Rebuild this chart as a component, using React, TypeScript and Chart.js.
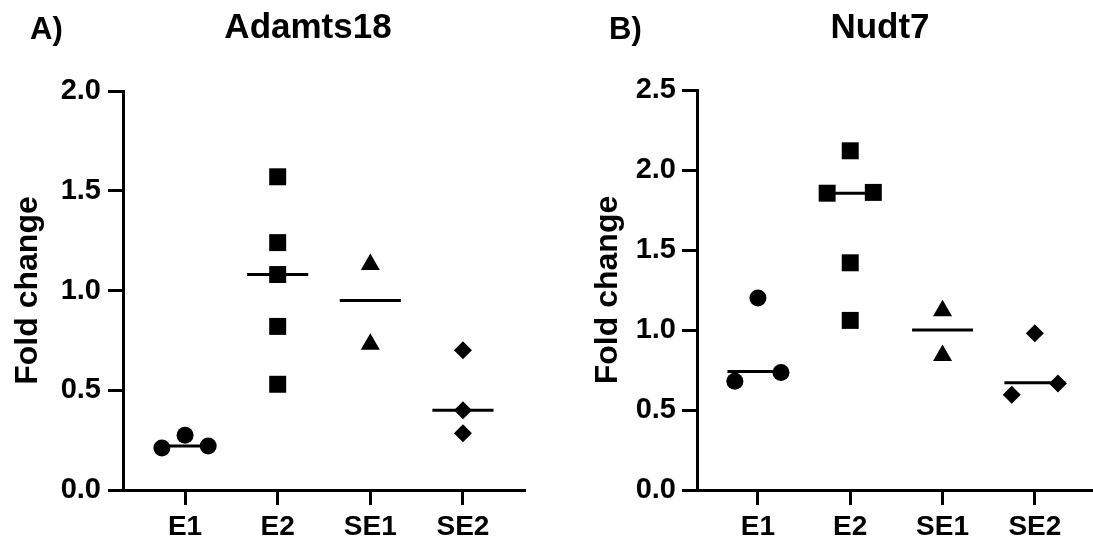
import React, { useEffect, useRef } from "react";
import { Chart, registerables } from "chart.js";
Chart.register(...registerables);

const FONT = "'Liberation Sans', Arial, Helvetica, sans-serif";

// Categories and marker shapes
const groups = ["E1", "E2", "SE1", "SE2"];
const pointStyles = ["circle", "rect", "triangle", "rectRot"];
const pointRadii = [8.5, 12, 11, 9];

// Panel A: Adamts18 fold change values
const adamtsE1 = [0.21, 0.275, 0.22];
const adamtsE2 = [1.57, 1.24, 1.08, 0.82, 0.53];
const adamtsSE1 = [1.13, 0.73];
const adamtsSE2 = [0.7, 0.4, 0.285];
const adamtsMedians = [0.22, 1.08, 0.95, 0.4];
// horizontal scatter (jitter) in category units
const adamtsJitterE1 = [-0.25, 0, 0.25];
const adamtsJitterE2 = [0, 0, 0, 0, 0];
const adamtsJitterSE1 = [0, 0];
const adamtsJitterSE2 = [0, 0, 0];
const adamtsYTicks = [0, 0.5, 1.0, 1.5, 2.0];

// Panel B: Nudt7 fold change values
const nudtE1 = [0.68, 1.2, 0.735];
const nudtE2 = [1.855, 2.12, 1.86, 1.42, 1.06];
const nudtSE1 = [1.12, 0.84];
const nudtSE2 = [0.595, 0.98, 0.665];
const nudtMedians = [0.74, 1.855, 1.0, 0.67];
const nudtJitterE1 = [-0.25, 0, 0.25];
const nudtJitterE2 = [-0.25, 0, 0.25, 0, 0];
const nudtJitterSE1 = [0, 0];
const nudtJitterSE2 = [-0.25, 0, 0.25];
const nudtYTicks = [0, 0.5, 1.0, 1.5, 2.0, 2.5];

type PanelSpec = {
  letter: string;
  title: string;
  values: number[][];
  jitter: number[][];
  medians: number[];
  yTicks: number[];
  width: number;
  yAxisWidth: number;
  padTop: number;
  padRight: number;
  xMin: number;
  xMax: number;
  yTitlePad: number;
  tickPad: number;
  letterX: number;
  titleX: number;
};

const panelA: PanelSpec = {
  letter: "A)",
  title: "Adamts18",
  values: [adamtsE1, adamtsE2, adamtsSE1, adamtsSE2],
  jitter: [adamtsJitterE1, adamtsJitterE2, adamtsJitterSE1, adamtsJitterSE2],
  medians: adamtsMedians,
  yTicks: adamtsYTicks,
  width: 546,
  yAxisWidth: 123,
  padTop: 91,
  padRight: 21,
  xMin: -0.67,
  xMax: 3.67,
  yTitlePad: 9,
  tickPad: 7,
  letterX: 30,
  titleX: 308,
};

const panelB: PanelSpec = {
  letter: "B)",
  title: "Nudt7",
  values: [nudtE1, nudtE2, nudtSE1, nudtSE2],
  jitter: [nudtJitterE1, nudtJitterE2, nudtJitterSE1, nudtJitterSE2],
  medians: nudtMedians,
  yTicks: nudtYTicks,
  width: 547,
  yAxisWidth: 151,
  padTop: 90,
  padRight: 0,
  xMin: -0.66,
  xMax: 3.63,
  yTitlePad: 43,
  tickPad: 6,
  letterX: 63,
  titleX: 334,
};

const MEDIAN_HALF = 0.33;

function buildConfig(p: PanelSpec): any {
  const pointSets = p.values.map((vals, gi) => ({
    type: "scatter",
    label: groups[gi],
    data: vals.map((v, i) => ({ x: gi + p.jitter[gi][i], y: v })),
    pointStyle: pointStyles[gi],
    pointRadius: pointRadii[gi],
    pointHoverRadius: pointRadii[gi],
    pointBackgroundColor: "#000",
    pointBorderColor: "#000",
    pointBorderWidth: 0,
    showLine: false,
    order: 0,
    clip: false,
  }));
  const medianSets = p.medians.map((m, gi) => ({
    type: "scatter",
    label: groups[gi] + " median",
    data: [
      { x: gi - MEDIAN_HALF, y: m },
      { x: gi + MEDIAN_HALF, y: m },
    ],
    showLine: true,
    borderColor: "#000",
    borderWidth: 3,
    pointRadius: 0,
    order: 1,
    clip: false,
  }));
  const yMax = p.yTicks[p.yTicks.length - 1];
  const labelPlugin = {
    id: "panelLabels",
    afterDraw(chart: any) {
      const ctx = chart.ctx;
      ctx.save();
      ctx.fillStyle = "#000";
      ctx.textBaseline = "alphabetic";
      ctx.font = `bold 31px ${FONT}`;
      ctx.textAlign = "left";
      ctx.fillText(p.letter, p.letterX, 39);
      ctx.font = `bold 35px ${FONT}`;
      ctx.textAlign = "center";
      ctx.fillText(p.title, p.titleX, 38);
      ctx.restore();
    },
  };
  return {
    type: "scatter",
    data: { datasets: [...pointSets, ...medianSets] },
    plugins: [labelPlugin],
    options: {
      responsive: false,
      animation: false,
      events: [],
      layout: {
        autoPadding: false,
        padding: { left: 0, top: p.padTop, right: p.padRight, bottom: 0 },
      },
      plugins: {
        legend: { display: false },
        title: { display: false },
        tooltip: { enabled: false },
      },
      scales: {
        x: {
          type: "linear",
          min: p.xMin,
          max: p.xMax,
          afterBuildTicks: (axis: any) => {
            axis.ticks = groups.map((_, i) => ({ value: i }));
          },
          afterFit: (axis: any) => {
            axis.height = 60;
            axis.paddingLeft = 0;
            axis.paddingRight = 0;
          },
          ticks: {
            autoSkip: false,
            maxRotation: 0,
            minRotation: 0,
            padding: 5,
            color: "#000",
            font: { family: FONT, size: 28, weight: "bold" },
            callback: (v: any) => groups[Math.round(v)] ?? "",
          },
          grid: {
            display: true,
            drawOnChartArea: false,
            drawTicks: true,
            tickLength: 15,
            tickWidth: 3,
            tickColor: "#000",
            color: "#000",
          },
          border: { display: true, width: 3, color: "#000" },
        },
        y: {
          type: "linear",
          min: 0,
          max: yMax,
          afterBuildTicks: (axis: any) => {
            axis.ticks = p.yTicks.map((v) => ({ value: v }));
          },
          afterFit: (axis: any) => {
            axis.width = p.yAxisWidth;
          },
          ticks: {
            padding: p.tickPad,
            color: "#000",
            font: { family: FONT, size: 29, weight: "bold" },
            callback: (v: any) => Number(v).toFixed(1),
          },
          grid: {
            display: true,
            drawOnChartArea: false,
            drawTicks: true,
            tickLength: 15,
            tickWidth: 3,
            tickColor: "#000",
            color: "#000",
          },
          border: { display: true, width: 3, color: "#000" },
          title: {
            display: true,
            text: "Fold change",
            color: "#000",
            font: { family: FONT, size: 32, weight: "bold" },
            padding: { top: p.yTitlePad, bottom: 0 },
          },
        },
      },
    },
  };
}

function Panel({ spec, left }: { spec: PanelSpec; left: number }) {
  const ref = useRef<HTMLCanvasElement | null>(null);
  useEffect(() => {
    if (!ref.current) return;
    const chart = new Chart(ref.current, buildConfig(spec));
    return () => chart.destroy();
  }, [spec]);
  return (
    <canvas
      ref={ref}
      width={spec.width}
      height={550}
      style={{ position: "absolute", left, top: 0, width: spec.width, height: 550 }}
    />
  );
}

export default function App() {
  return (
    <div
      style={{
        position: "absolute",
        left: 0,
        top: 0,
        width: 1093,
        height: 550,
        background: "#fff",
        overflow: "hidden",
      }}
    >
      <Panel spec={panelA} left={0} />
      <Panel spec={panelB} left={546} />
    </div>
  );
}
